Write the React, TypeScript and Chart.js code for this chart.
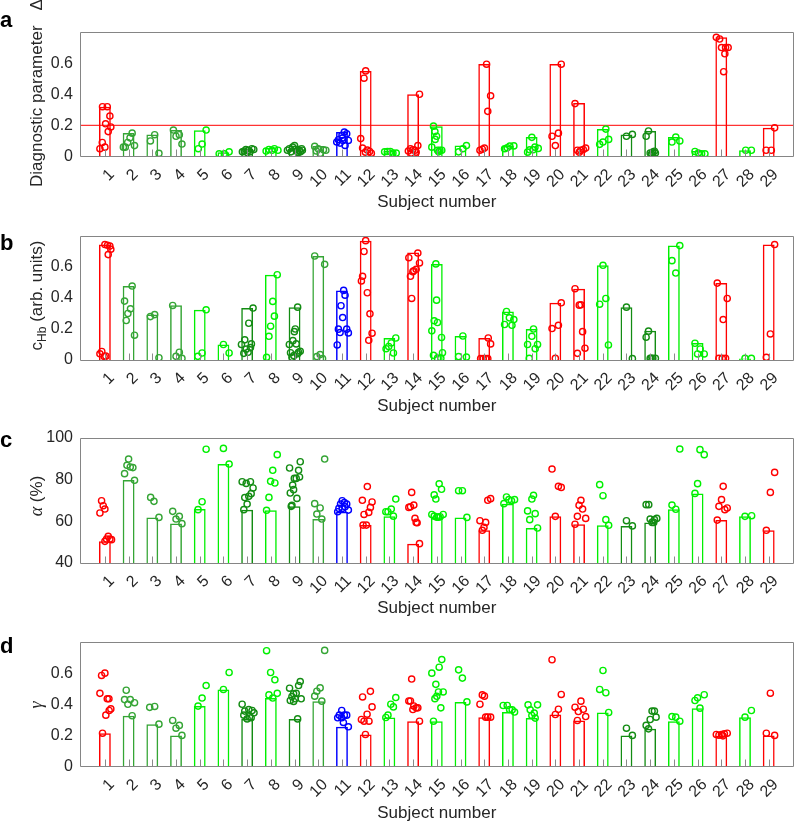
import React, { useEffect, useRef } from "react";
import { Chart, registerables } from "chart.js";

Chart.register(...registerables);

// ---------- categories ----------
const SUBJECTS = [1, 2, 3, 4, 5, 6, 7, 8, 9, 10, 11, 12, 13, 14, 15, 16, 17, 18, 19, 20, 21, 22, 23, 24, 25, 26, 27, 28, 29];
const X_TICK_LABELS = ["1", "2", "3", "4", "5", "6", "7", "8", "9", "10", "11", "12", "13", "14", "15", "16", "17", "18", "19", "20", "21", "22", "23", "24", "25", "26", "27", "28", "29"];
const SUBJECT_GROUP = ["red", "mid", "mid", "mid", "light", "light", "dark", "light", "dark", "mid", "blue", "red", "light", "red", "light", "light", "red", "light", "light", "red", "red", "light", "dark", "dark", "light", "light", "red", "light", "red"];
const GROUP_COLOR: Record<string, string> = {
  red: "#ff0000",
  light: "#00f000",
  mid: "#35a535",
  dark: "#138c13",
  blue: "#0000ff",
};

const FRACTION_TICKS = [0, 0.2, 0.4, 0.6];
const FRACTION_TICK_LABELS = ["0", "0.2", "0.4", "0.6"];
const ALPHA_TICKS = [40, 60, 80, 100];
const ALPHA_TICK_LABELS = ["40", "60", "80", "100"];
const THRESHOLD_A = 0.2;

// ---------- panel a: diagnostic parameter ----------
const A_BARS = [0.32, 0.151, 0.142, 0.17, 0.168, 0.028, 0.05, 0.054, 0.07, 0.067, 0.157, 0.55, 0.035, 0.4, 0.195, 0.07, 0.595, 0.068, 0.125, 0.595, 0.343, 0.176, 0.142, 0.164, 0.125, 0.035, 0.766, 0.04, 0.184];
const A_POINTS: number[][][] = [
  [[-0.1, 0.32], [0.1, 0.32], [0.21, 0.26], [0.03, 0.21], [0.25, 0.19], [0.14, 0.16], [-0.11, 0.09], [-0.21, 0.05], [0, 0.06]],
  [[0.15, 0.15], [0.06, 0.12], [-0.04, 0.09], [-0.14, 0.06], [-0.22, 0.06], [0.25, 0.07]],
  [[0.1, 0.14], [-0.08, 0.1], [0.28, 0.02]],
  [[-0.11, 0.17], [0.14, 0.14], [0, 0.13], [0.25, 0.08]],
  [[0.27, 0.17], [0.1, 0.08], [-0.06, 0.05]],
  [[-0.18, 0.017], [0.04, 0.017], [0.24, 0.03]],
  [[-0.2, 0.03], [-0.12, 0.035], [-0.05, 0.045], [0, 0.025], [0.05, 0.04], [0.12, 0.03], [0.2, 0.05], [0.28, 0.045]],
  [[-0.2, 0.035], [-0.08, 0.045], [0.05, 0.04], [0.15, 0.05], [0.3, 0.04]],
  [[-0.3, 0.04], [-0.22, 0.05], [-0.15, 0.03], [-0.08, 0.06], [0, 0.07], [0.05, 0.045], [0.1, 0.035], [0.15, 0.025], [0.2, 0.04], [0.25, 0.03], [0.3, 0.05], [0.33, 0.04]],
  [[-0.15, 0.065], [0, 0.05], [0.22, 0.043], [0.32, 0.04], [0.08, 0.02], [-0.08, 0.035]],
  [[0.1, 0.157], [0.2, 0.146], [0, 0.136], [-0.15, 0.108], [0.05, 0.103], [0.27, 0.103], [-0.22, 0.093], [-0.08, 0.086], [0.13, 0.071], [0.01, 0.118]],
  [[0, 0.55], [-0.07, 0.503], [-0.21, 0.115], [-0.13, 0.054], [0.07, 0.041], [0.17, 0.032], [0.24, 0.021], [-0.01, 0.028]],
  [[-0.2, 0.03], [-0.08, 0.032], [0.04, 0.032], [0.15, 0.022], [0.29, 0.022]],
  [[0.27, 0.4], [0.2, 0.07], [0.08, 0.04], [-0.01, 0.043], [-0.11, 0.05], [-0.2, 0.035], [-0.08, 0.022], [0.13, 0.028]],
  [[-0.14, 0.195], [-0.08, 0.16], [-0.01, 0.13], [-0.07, 0.11], [-0.21, 0.06], [0.03, 0.04], [0.13, 0.04], [0.21, 0.04], [0.08, 0.03]],
  [[0.25, 0.07], [0.1, 0.05], [-0.08, 0.03]],
  [[0.1, 0.593], [0.27, 0.39], [0.15, 0.29], [0.01, 0.054], [-0.08, 0.047], [-0.18, 0.04]],
  [[0.25, 0.068], [0.08, 0.067], [-0.03, 0.056], [-0.14, 0.05]],
  [[0.01, 0.123], [0.14, 0.06], [0.28, 0.052], [0.06, 0.043], [-0.17, 0.028], [-0.08, 0.043]],
  [[0.25, 0.593], [0.13, 0.15], [-0.14, 0.13], [0, 0.07]],
  [[-0.17, 0.34], [0.28, 0.054], [0.18, 0.045], [0.07, 0.04], [-0.07, 0.04], [0.01, 0.028]],
  [[0.13, 0.176], [0.25, 0.11], [0.01, 0.093], [-0.13, 0.078]],
  [[0, 0.13], [0.25, 0.142]],
  [[-0.07, 0.164], [-0.17, 0.13], [0, 0.022], [0.11, 0.028], [0.22, 0.022], [0.06, 0.017], [0.18, 0.034]],
  [[0.08, 0.125], [0.25, 0.1], [-0.08, 0.093]],
  [[-0.11, 0.032], [0.03, 0.022], [0.17, 0.017], [0.31, 0.017]],
  [[-0.21, 0.766], [-0.07, 0.755], [0.01, 0.7], [0.18, 0.7], [0.29, 0.7], [0.15, 0.66], [0.1, 0.545]],
  [[0.03, 0.04], [0.27, 0.04]],
  [[0.25, 0.184], [-0.11, 0.04], [0.11, 0.04]],
];

// ---------- panel b: c_Hb ----------
const B_BARS = [0.745, 0.477, 0.293, 0.354, 0.324, 0.1, 0.335, 0.55, 0.341, 0.671, 0.449, 0.77, 0.142, 0.693, 0.62, 0.155, 0.142, 0.313, 0.2, 0.369, 0.46, 0.611, 0.341, 0.188, 0.738, 0.11, 0.496, 0.009, 0.745];
const B_POINTS: number[][][] = [
  [[0, 0.745], [0.11, 0.74], [0.21, 0.735], [0.25, 0.715], [0.14, 0.68], [-0.21, 0.04], [-0.13, 0.055], [-0.03, 0.023], [0.04, 0.025]],
  [[0.15, 0.477], [-0.17, 0.38], [-0.03, 0.3], [0.08, 0.33], [-0.1, 0.255], [0.25, 0.16]],
  [[-0.08, 0.28], [0.1, 0.293], [0.28, 0.015]],
  [[-0.14, 0.352], [0.14, 0.05], [0, 0.024], [0.25, 0.011]],
  [[0.27, 0.324], [0.1, 0.045], [-0.08, 0.024]],
  [[0, 0.1], [0.24, 0.045]],
  [[0.25, 0.335], [0.07, 0.237], [-0.1, 0.13], [-0.24, 0.1], [0.18, 0.104], [-0.04, 0.07], [-0.14, 0.043], [0.04, 0.05], [0.14, 0.08]],
  [[0.27, 0.55], [0.08, 0.378], [0.15, 0.283], [-0.01, 0.218], [-0.08, 0.153], [-0.18, 0.017]],
  [[0.13, 0.341], [0.03, 0.2], [-0.01, 0.183], [-0.07, 0.125], [0.07, 0.104], [-0.22, 0.1], [-0.17, 0.047], [-0.11, 0.017], [-0.03, 0.028], [0.17, 0.05], [0.24, 0.056], [0.13, 0.04]],
  [[-0.15, 0.671], [0.27, 0.617], [0.08, 0.035], [-0.06, 0.022], [0.18, 0.009]],
  [[0.07, 0.449], [0.13, 0.418], [-0.04, 0.35], [0.03, 0.274], [-0.15, 0.199], [-0.08, 0.177], [0.2, 0.199], [0.27, 0.175], [-0.2, 0.097]],
  [[0, 0.77], [-0.07, 0.7], [-0.13, 0.54], [-0.18, 0.51], [0.07, 0.434], [0.18, 0.298], [0.27, 0.173], [0.13, 0.127]],
  [[0.27, 0.142], [0.08, 0.11], [-0.03, 0.087], [-0.14, 0.073], [0.17, 0.045]],
  [[0.2, 0.69], [-0.18, 0.66], [0.27, 0.626], [0.13, 0.585], [0.03, 0.576], [-0.01, 0.57], [-0.11, 0.54], [-0.06, 0.397]],
  [[-0.04, 0.62], [-0.01, 0.386], [-0.11, 0.253], [0.03, 0.242], [-0.21, 0.188], [0.2, 0.145], [-0.14, 0.03], [0.24, 0.047], [0.03, 0.012], [0.17, 0.012]],
  [[0.1, 0.155], [-0.08, 0.022], [0.25, 0.019]],
  [[0.17, 0.142], [0.27, 0.104], [-0.15, 0.009], [-0.04, 0.009], [0.06, 0.009], [0.15, 0.009]],
  [[-0.06, 0.313], [0.06, 0.272], [0.25, 0.261], [-0.14, 0.229], [0.17, 0.224]],
  [[0.08, 0.2], [0.01, 0.153], [-0.17, 0.1], [0.25, 0.1], [0.15, 0.073], [-0.1, 0.011]],
  [[0.25, 0.369], [0.13, 0.224], [-0.14, 0.203], [0, 0.011]],
  [[-0.17, 0.46], [0.01, 0.354], [0.08, 0.356], [0.15, 0.183], [0.25, 0.076], [-0.07, 0.043]],
  [[0.01, 0.611], [0.13, 0.397], [-0.13, 0.36], [0.24, 0.097]],
  [[0, 0.341], [0.25, 0.009]],
  [[-0.07, 0.186], [-0.17, 0.147], [0, 0.011], [0.11, 0.011], [0.22, 0.011], [0.04, 0.011]],
  [[0.25, 0.738], [-0.08, 0.641], [0.08, 0.561]],
  [[-0.11, 0.108], [0.11, 0.071], [0, 0.039], [0.28, 0.039]],
  [[-0.17, 0.496], [0.25, 0.397], [0.08, 0.261], [-0.1, 0.011], [0.04, 0.011], [0.18, 0.011]],
  [[0, 0.011], [0.27, 0.011]],
  [[0.25, 0.745], [0.07, 0.168], [-0.1, 0.017]],
];

// ---------- panel c: alpha (%) ----------
const C_BARS = [50.4, 79.8, 61.9, 59, 65.9, 87.5, 65.6, 65.3, 67.2, 61.1, 64.6, 58.2, 62.5, 49.3, 62.0, 61.9, 55.7, 68.5, 56.8, 62.4, 58.6, 58.1, 57.8, 59.5, 65.8, 73.4, 60.6, 62.4, 55.7];
const C_POINTS: number[][][] = [
  [[-0.14, 69.9], [-0.07, 67.5], [0, 65.9], [-0.21, 64], [0.14, 52.8], [0.07, 51.5], [0.21, 51.5], [0.28, 51.2], [0, 50.4]],
  [[0, 89.9], [-0.07, 86.9], [0.07, 86.1], [0.18, 85.8], [-0.17, 82.9], [0.25, 79.7]],
  [[-0.07, 71.5], [0.07, 69.6], [0.28, 61.9]],
  [[-0.14, 64.8], [0.14, 62.4], [0, 61.1], [0.25, 58.9]],
  [[0.27, 94.6], [0.1, 69.4], [-0.07, 65.6]],
  [[0, 95], [0.24, 87.5]],
  [[-0.21, 79], [-0.04, 78.2], [0.14, 79], [0.25, 76], [0.17, 73.3], [-0.1, 71.4], [0.07, 72], [0, 68.3], [-0.14, 65.6]],
  [[0.27, 92], [0.08, 84.5], [-0.01, 79.2], [0.17, 78.4], [-0.08, 71.5], [-0.18, 65.3]],
  [[-0.21, 85.6], [0.24, 88.6], [0.17, 84.5], [0.07, 80.6], [0.21, 81.3], [-0.01, 80.6], [-0.08, 77.4], [-0.04, 75.2], [-0.18, 73.6], [0.1, 71], [-0.11, 67.7], [-0.14, 67.2]],
  [[0.27, 89.9], [-0.15, 68.5], [0.08, 66.4], [-0.06, 63.5], [0.15, 61.1]],
  [[0.01, 69.9], [0.1, 69], [-0.06, 68.3], [0.2, 68.3], [-0.13, 66.2], [0.01, 66.2], [0.27, 65.4], [-0.18, 64.6], [0.13, 67]],
  [[0.07, 76.7], [-0.14, 70.1], [0.27, 69.3], [0.2, 66.7], [0.13, 64.3], [-0.07, 63.3], [-0.11, 58.2], [0.03, 58.2]],
  [[0.27, 70.7], [0.08, 65.9], [-0.06, 64.6], [-0.15, 64.6], [0.17, 62.5]],
  [[-0.06, 73.9], [0.03, 67.8], [-0.18, 66.7], [-0.11, 67], [0.08, 61.4], [0.17, 59.3], [0.13, 59.5], [0.27, 49.3]],
  [[0.1, 78], [0.2, 75.4], [-0.11, 72.7], [-0.04, 70.7], [-0.21, 63.3], [-0.11, 62.5], [0, 62.0], [0.14, 62.2], [0.27, 63.3], [0.07, 62.0]],
  [[-0.08, 74.7], [0.08, 74.7], [0.27, 61.9]],
  [[0.27, 70.9], [0.15, 70.1], [0.06, 59.5], [-0.18, 60.3], [-0.01, 57.1], [-0.08, 55.7]],
  [[-0.06, 71.7], [0.04, 70.4], [0.15, 69.9], [0.28, 70.4], [-0.17, 68.5]],
  [[0.08, 72.5], [0.01, 70.7], [-0.17, 65], [0.15, 63.7], [-0.08, 60.8], [0.25, 56.8]],
  [[-0.14, 85.1], [0.13, 76.8], [0.25, 76.3], [0, 62.4]],
  [[0.08, 70.1], [0, 67.7], [0.15, 65.9], [-0.07, 62.4], [0.28, 61.4], [-0.17, 58.6]],
  [[-0.13, 77.6], [0.01, 72.3], [0.13, 60.8], [0.25, 58.1]],
  [[0, 60.3], [0.25, 57.8]],
  [[-0.17, 68], [-0.06, 68], [0, 61.1], [0.18, 60.8], [0.28, 61.4], [0.08, 59.5], [0.15, 59.5]],
  [[0.25, 94.7], [-0.08, 67.8], [0.08, 65.8]],
  [[0.1, 94.4], [0.28, 92], [0, 78.1], [-0.11, 73.4]],
  [[0.08, 76.8], [0.01, 70.4], [-0.1, 67.2], [0.25, 66.4], [0.15, 65.6], [-0.17, 60.6]],
  [[0, 62.4], [0.28, 62.7]],
  [[0.25, 83.5], [0.07, 73.9], [-0.1, 55.7]],
];

// ---------- panel d: gamma ----------
const D_BARS = [0.214, 0.326, 0.272, 0.2, 0.388, 0.495, 0.306, 0.44, 0.306, 0.42, 0.255, 0.206, 0.315, 0.291, 0.291, 0.415, 0.317, 0.35, 0.311, 0.334, 0.296, 0.347, 0.2, 0.242, 0.291, 0.375, 0.197, 0.317, 0.2];
const D_POINTS: number[][][] = [
  [[0, 0.6], [-0.14, 0.585], [-0.21, 0.47], [0.1, 0.435], [0.17, 0.435], [0.04, 0.33], [0.25, 0.37], [0.18, 0.36], [-0.1, 0.214]],
  [[-0.1, 0.49], [-0.17, 0.43], [0.07, 0.43], [0.25, 0.41], [-0.03, 0.4], [0.15, 0.326]],
  [[-0.11, 0.38], [0.1, 0.386], [0.28, 0.272]],
  [[-0.14, 0.296], [0.14, 0.264], [0, 0.246], [0.25, 0.2]],
  [[0.27, 0.52], [0.1, 0.44], [-0.07, 0.388]],
  [[0.24, 0.604], [0, 0.495]],
  [[-0.21, 0.4], [0.07, 0.366], [0.21, 0.36], [-0.1, 0.356], [0.29, 0.345], [-0.14, 0.33], [0.1, 0.32], [0, 0.306], [0.17, 0.313]],
  [[-0.18, 0.744], [-0.01, 0.604], [0.17, 0.557], [0.27, 0.47], [-0.08, 0.46], [0.08, 0.44]],
  [[0.24, 0.546], [0.17, 0.52], [-0.21, 0.503], [0.07, 0.47], [-0.04, 0.467], [-0.11, 0.45], [0.03, 0.435], [0.28, 0.435], [-0.18, 0.424], [-0.04, 0.418], [0.13, 0.306]],
  [[0.27, 0.746], [0.08, 0.505], [-0.06, 0.484], [-0.15, 0.452], [0.15, 0.42]],
  [[-0.01, 0.36], [0.1, 0.33], [-0.11, 0.33], [0.2, 0.33], [-0.18, 0.313], [-0.01, 0.313], [0.06, 0.283], [0.27, 0.255]],
  [[0.2, 0.483], [-0.13, 0.447], [0.27, 0.383], [0.06, 0.336], [-0.18, 0.302], [0.14, 0.291], [-0.07, 0.291], [-0.01, 0.206]],
  [[0.27, 0.443], [0.06, 0.4], [0.17, 0.383], [-0.06, 0.33], [-0.15, 0.315]],
  [[-0.06, 0.562], [-0.18, 0.421], [-0.11, 0.421], [0.03, 0.389], [0.13, 0.377], [0.2, 0.377], [-0.01, 0.366], [0.27, 0.291]],
  [[0.21, 0.687], [0.1, 0.638], [-0.21, 0.6], [-0.04, 0.528], [0.27, 0.479], [0.07, 0.479], [0, 0.451], [-0.08, 0.436], [0.17, 0.377], [-0.14, 0.291]],
  [[-0.08, 0.621], [0.08, 0.568], [0.27, 0.415]],
  [[-0.08, 0.46], [0.01, 0.452], [-0.18, 0.4], [0.06, 0.317], [0.15, 0.317], [0.27, 0.317]],
  [[-0.2, 0.392], [-0.03, 0.392], [0.07, 0.366], [0.18, 0.364], [0.28, 0.35]],
  [[-0.15, 0.396], [0.25, 0.396], [-0.06, 0.364], [0.11, 0.343], [0.01, 0.328], [0.15, 0.311]],
  [[-0.14, 0.686], [0.25, 0.463], [0.13, 0.368], [0, 0.334]],
  [[0.08, 0.42], [-0.17, 0.381], [0.18, 0.368], [-0.03, 0.353], [0.28, 0.321], [-0.07, 0.296]],
  [[0.01, 0.617], [-0.13, 0.495], [0.13, 0.474], [0.25, 0.347]],
  [[0, 0.246], [0.25, 0.2]],
  [[0.08, 0.356], [0.18, 0.356], [0.25, 0.317], [0, 0.302], [-0.17, 0.264], [-0.07, 0.242]],
  [[-0.08, 0.321], [0.08, 0.317], [0.25, 0.291]],
  [[0.28, 0.461], [0, 0.441], [-0.11, 0.424], [0.1, 0.375]],
  [[-0.21, 0.206], [-0.1, 0.201], [0.01, 0.206], [0.13, 0.21], [0.25, 0.214], [0.07, 0.197]],
  [[0, 0.317], [0.27, 0.36]],
  [[0.07, 0.471], [-0.1, 0.214], [0.25, 0.2]],
];

// ---------- styling ----------
const SANS = '"Liberation Sans", Arial, Helvetica, sans-serif';
const SERIF = '"Liberation Serif", "Times New Roman", serif';
const TEXT_COLOR = "#262626";
const AXIS_COLOR = "#858585";
const TICK_COLOR = "#8a8a8a";
const CANVAS_W = 799;
const CANVAS_H = 215;
const AREA_TOP = 32;
const AREA_LEFT = 80;
const X_MIN = -0.05;
const X_MAX = 30.05;

type Part = { t: string; font: string; dy?: number; gap?: number };
type PanelCfg = {
  key: string;
  letter: string;
  top: number;
  letterY: number;
  areaBottom: number;
  yMin: number;
  yMax: number;
  yTicks: number[];
  yTickLabels: string[];
  bars: number[];
  points: number[][][];
  refLine?: number;
  titleParts: Part[];
  titleStart?: number;
  titleCenter?: number;
  xTitleY: number;
};

const F17 = `17px ${SANS}`;

const PANELS: PanelCfg[] = [
  {
    key: "a", letter: "a", top: 0, letterY: 27, areaBottom: 156.5,
    yMin: 0, yMax: 0.8, yTicks: FRACTION_TICKS, yTickLabels: FRACTION_TICK_LABELS,
    bars: A_BARS, points: A_POINTS, refLine: THRESHOLD_A,
    titleParts: [{ t: "Diagnostic parameter", font: F17 }, { t: "Δ", font: F17, gap: 15 }],
    titleStart: 187, xTitleY: 207,
  },
  {
    key: "b", letter: "b", top: 203.7, letterY: 46.3, areaBottom: 156,
    yMin: 0, yMax: 0.8, yTicks: FRACTION_TICKS, yTickLabels: FRACTION_TICK_LABELS,
    bars: B_BARS, points: B_POINTS,
    titleParts: [{ t: "c", font: F17 }, { t: "Hb", font: `12px ${SANS}`, dy: 4 }, { t: " (arb. units)", font: F17 }],
    titleCenter: 91.5, xTitleY: 207,
  },
  {
    key: "c", letter: "c", top: 406.3, letterY: 40.7, areaBottom: 157,
    yMin: 40, yMax: 100, yTicks: ALPHA_TICKS, yTickLabels: ALPHA_TICK_LABELS,
    bars: C_BARS, points: C_POINTS,
    titleParts: [{ t: "α", font: `italic 18px ${SERIF}` }, { t: " (%)", font: F17 }],
    titleCenter: 90, xTitleY: 207,
  },
  {
    key: "d", letter: "d", top: 609.7, letterY: 43.3, areaBottom: 156.5,
    yMin: 0, yMax: 0.8, yTicks: FRACTION_TICKS, yTickLabels: FRACTION_TICK_LABELS,
    bars: D_BARS, points: D_POINTS,
    titleParts: [{ t: "γ", font: `italic 18px ${SERIF}` }],
    titleCenter: 95, xTitleY: 208,
  },
];

function drawVerticalTitle(ctx: CanvasRenderingContext2D, x: number, cfg: PanelCfg) {
  const widths = cfg.titleParts.map((p) => {
    ctx.font = p.font;
    return ctx.measureText(p.t).width + (p.gap || 0);
  });
  const total = widths.reduce((s, w) => s + w, 0);
  const start = cfg.titleStart !== undefined ? cfg.titleStart : (cfg.titleCenter as number) + total / 2;
  ctx.save();
  ctx.translate(x, start);
  ctx.rotate(-Math.PI / 2);
  ctx.fillStyle = TEXT_COLOR;
  ctx.textAlign = "left";
  ctx.textBaseline = "alphabetic";
  let pos = 0;
  cfg.titleParts.forEach((p, i) => {
    pos += p.gap || 0;
    ctx.font = p.font;
    ctx.fillText(p.t, pos, p.dy || 0);
    pos += widths[i] - (p.gap || 0);
  });
  ctx.restore();
}

function Panel({ cfg }: { cfg: PanelCfg }) {
  const ref = useRef<HTMLCanvasElement>(null);
  useEffect(() => {
    const canvas = ref.current;
    if (!canvas) return;
    const barColors = SUBJECT_GROUP.map((g) => GROUP_COLOR[g]);
    const pts: { x: number; y: number }[] = [];
    const ptColors: string[] = [];
    cfg.points.forEach((list, i) => {
      list.forEach(([dx, v]) => {
        pts.push({ x: SUBJECTS[i] + dx, y: v });
        ptColors.push(barColors[i]);
      });
    });

    const decor = {
      id: "decor" + cfg.key,
      beforeDatasetsDraw(chart: any) {
        if (cfg.refLine === undefined) return;
        const { ctx, chartArea: a, scales } = chart;
        const yy = scales.y.getPixelForValue(cfg.refLine);
        ctx.save();
        ctx.strokeStyle = "rgba(255,0,0,0.8)";
        ctx.lineWidth = 1.2;
        ctx.beginPath();
        ctx.moveTo(a.left, yy);
        ctx.lineTo(a.right, yy);
        ctx.stroke();
        ctx.restore();
      },
      afterDraw(chart: any) {
        const { ctx, chartArea: a, scales } = chart;
        const xs = scales.x;
        const ys = scales.y;
        const L = Math.floor(a.left) + 0.5;
        const R = Math.floor(a.right) + 0.5;
        const T = Math.floor(a.top) + 0.5;
        const B = Math.floor(a.bottom) + 0.5;
        ctx.save();
        // inward x tick marks
        ctx.strokeStyle = TICK_COLOR;
        ctx.lineWidth = 1;
        SUBJECTS.forEach((s) => {
          const px = Math.round(xs.getPixelForValue(s)) + 0.5;
          ctx.beginPath();
          ctx.moveTo(px, B);
          ctx.lineTo(px, B - 7);
          ctx.stroke();
        });
        // box
        ctx.strokeStyle = AXIS_COLOR;
        ctx.beginPath();
        ctx.moveTo(L, T);
        ctx.lineTo(R, T);
        ctx.lineTo(R, B);
        ctx.lineTo(L, B);
        ctx.closePath();
        ctx.stroke();
        // y tick labels
        ctx.fillStyle = TEXT_COLOR;
        ctx.font = `16px ${SANS}`;
        ctx.textAlign = "right";
        ctx.textBaseline = "middle";
        cfg.yTicks.forEach((v, i) => {
          ctx.fillText(cfg.yTickLabels[i], a.left - 7, ys.getPixelForValue(v));
        });
        // x tick labels, rotated
        SUBJECTS.forEach((s, i) => {
          const px = xs.getPixelForValue(s);
          ctx.save();
          ctx.translate(px + 7, a.bottom + 15.5);
          ctx.rotate(-Math.PI / 4);
          ctx.textAlign = "right";
          ctx.textBaseline = "middle";
          ctx.fillText(X_TICK_LABELS[i], 0, 0);
          ctx.restore();
        });
        // x title
        ctx.font = F17;
        ctx.textAlign = "center";
        ctx.textBaseline = "alphabetic";
        ctx.fillText("Subject number", (a.left + a.right) / 2, cfg.xTitleY);
        // panel letter
        ctx.font = `bold 22px ${SANS}`;
        ctx.textAlign = "left";
        ctx.fillStyle = "#000000";
        ctx.fillText(cfg.letter, 0, cfg.letterY);
        ctx.restore();
        // y title
        drawVerticalTitle(ctx, 42, cfg);
      },
    };

    const chart = new Chart(canvas, {
      type: "bar",
      data: {
        datasets: [
          {
            type: "scatter",
            data: pts,
            pointStyle: "circle",
            pointRadius: 3.1,
            pointBorderWidth: 1.4,
            pointBorderColor: ptColors,
            pointBackgroundColor: "rgba(0,0,0,0)",
            showLine: false,
            order: 0,
          } as any,
          {
            type: "bar",
            data: SUBJECTS.map((s, i) => ({ x: s, y: cfg.bars[i] })),
            borderColor: barColors,
            backgroundColor: "rgba(0,0,0,0)",
            borderWidth: 1.5,
            borderSkipped: "start",
            base: cfg.yMin,
            barPercentage: 0.5,
            categoryPercentage: 1,
            order: 1,
          } as any,
        ],
      },
      options: {
        responsive: false,
        animation: false,
        devicePixelRatio: 1,
        events: [],
        layout: { padding: { top: AREA_TOP, right: 1, left: 0, bottom: 0 } },
        plugins: { legend: { display: false }, tooltip: { enabled: false } },
        scales: {
          x: {
            type: "linear",
            min: X_MIN,
            max: X_MAX,
            offset: false,
            grid: { display: false, drawTicks: false },
            border: { display: false },
            ticks: { display: false },
            afterFit: (s: any) => {
              s.height = CANVAS_H - cfg.areaBottom;
            },
          },
          y: {
            type: "linear",
            min: cfg.yMin,
            max: cfg.yMax,
            grid: { display: false, drawTicks: false },
            border: { display: false },
            ticks: { display: false },
            afterFit: (s: any) => {
              s.width = AREA_LEFT;
            },
          },
        },
      } as any,
      plugins: [decor],
    });
    return () => chart.destroy();
  }, [cfg]);
  return (
    <canvas
      ref={ref}
      width={CANVAS_W}
      height={CANVAS_H}
      style={{ position: "absolute", left: 0, top: cfg.top, width: CANVAS_W, height: CANVAS_H }}
    />
  );
}

export default function App() {
  return (
    <div style={{ position: "absolute", left: 0, top: 0, width: 799, height: 824, background: "#ffffff", overflow: "hidden" }}>
      {PANELS.map((p) => (
        <Panel key={p.key} cfg={p} />
      ))}
    </div>
  );
}
